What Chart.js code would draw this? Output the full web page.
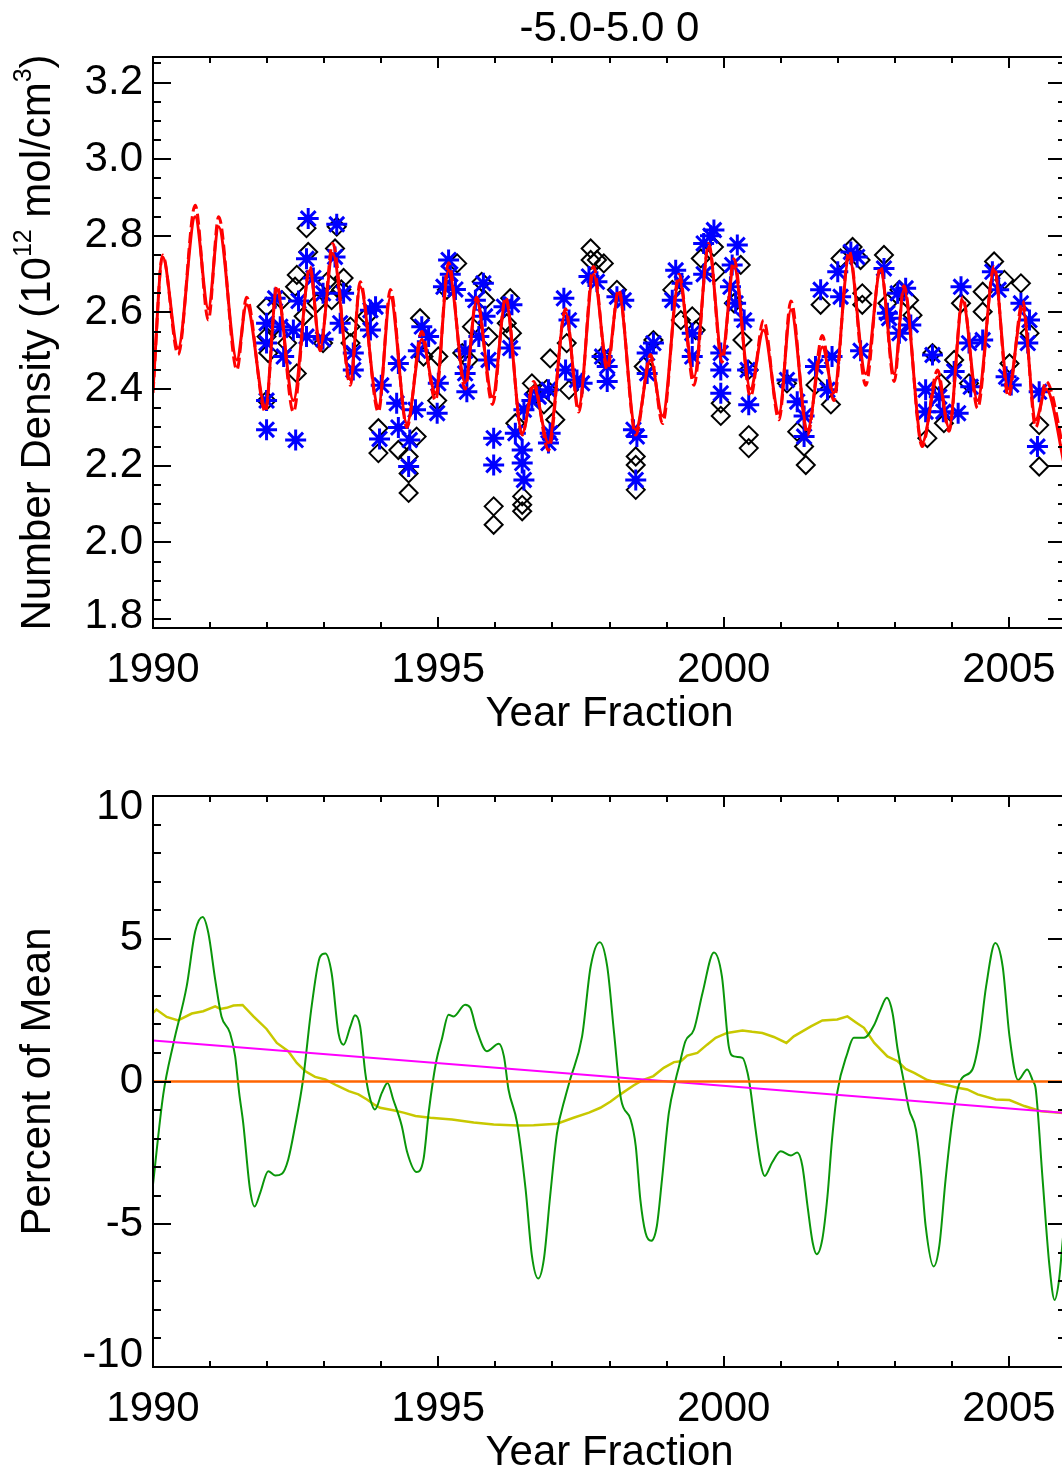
<!DOCTYPE html>
<html>
<head>
<meta charset="utf-8">
<script src="https://cdn.jsdelivr.net/npm/chart.js@4.4.1/dist/chart.umd.min.js"></script>
<style>
  html, body { margin: 0; padding: 0; background: #fff; overflow: hidden; }
  #wrap { position: relative; width: 1062px; height: 1472px; overflow: hidden; background: #fff; }
  canvas { position: absolute; left: 0; }
</style>
</head>
<body>
<div id="wrap">
  <canvas id="topChart" width="1090" height="736" style="top:0"></canvas>
  <canvas id="botChart" width="1090" height="736" style="top:736px"></canvas>
</div>
<script>
const FONT = '"Liberation Sans", Arial, Helvetica, sans-serif';

// ---- tick labels ----
const yearTicks = [1990, 1995, 2000, 2005];
const densityTicks = [1.8, 2.0, 2.2, 2.4, 2.6, 2.8, 3.0, 3.2];
const percentTicks = [-10, -5, 0, 5, 10];

// ---- top panel: model curves (solid and dashed red) ----
const redYears = [
  1990.00,1990.17,1990.44,1990.74,1990.97,1991.15,1991.47,1991.64,1991.97,1992.17,
  1992.46,1992.75,1992.93,1993.15,1993.46,1993.63,1993.95,1994.16,1994.45,1994.71,
  1994.95,1995.18,1995.47,1995.67,1995.95,1996.18,1996.47,1996.67,1996.93,1997.23,
  1997.46,1997.72,1997.96,1998.16,1998.46,1998.72,1998.93,1999.22,1999.48,1999.74,
  1999.97,2000.18,2000.47,2000.70,2000.97,2001.18,2001.47,2001.73,2001.93,2002.20,
  2002.49,2002.75,2002.99,2003.16,2003.48,2003.75,2003.95,2004.19,2004.45,2004.74,
  2004.99,2005.24,2005.47,2005.65,2006.00
];
const redSolid = [
  2.400,2.745,2.507,2.850,2.610,2.824,2.476,2.620,2.354,2.660,
  2.370,2.710,2.510,2.754,2.424,2.667,2.354,2.640,2.310,2.530,
  2.390,2.710,2.416,2.630,2.380,2.630,2.285,2.406,2.260,2.600,
  2.354,2.700,2.467,2.650,2.294,2.476,2.330,2.685,2.432,2.770,
  2.490,2.720,2.400,2.554,2.337,2.607,2.294,2.510,2.390,2.745,
  2.440,2.710,2.440,2.660,2.260,2.432,2.300,2.630,2.370,2.710,
  2.400,2.610,2.320,2.400,2.180
];
const redDashed = [
  2.390,2.750,2.490,2.880,2.580,2.850,2.450,2.640,2.340,2.670,
  2.340,2.720,2.500,2.780,2.410,2.680,2.340,2.660,2.300,2.550,
  2.370,2.730,2.400,2.640,2.360,2.640,2.280,2.420,2.240,2.610,
  2.340,2.720,2.450,2.660,2.280,2.490,2.310,2.700,2.410,2.780,
  2.470,2.740,2.380,2.580,2.320,2.630,2.280,2.540,2.370,2.760,
  2.410,2.720,2.420,2.670,2.250,2.450,2.290,2.640,2.350,2.720,
  2.380,2.630,2.300,2.420,2.210
];

// ---- top panel: measurements (black diamonds) ----
const diamondYears = [
  1991.99,1991.99,1992.02,1991.99,1992.10,1992.26,1992.35,1992.49,1992.52,1992.52,
  1992.64,1992.69,1992.72,1992.87,1992.98,1993.05,1993.13,1993.19,1993.22,1993.30,
  1993.34,1993.46,1993.46,1993.75,1993.95,1993.95,1994.30,1994.48,1994.48,1994.48,
  1994.62,1994.68,1994.74,1994.98,1995.00,1995.15,1995.33,1995.42,1995.53,1995.59,
  1995.76,1995.82,1995.88,1995.97,1995.97,1996.20,1996.26,1996.29,1996.35,1996.47,
  1996.47,1996.47,1996.64,1996.70,1996.85,1996.90,1996.96,1997.05,1997.25,1997.29,
  1997.67,1997.67,1997.78,1997.87,1997.90,1998.13,1998.46,1998.46,1998.46,1998.60,
  1998.77,1999.10,1999.25,1999.45,1999.51,1999.60,1999.83,1999.86,1999.95,1999.95,
  2000.18,2000.30,2000.33,2000.44,2000.44,2000.44,2001.11,2001.29,2001.41,2001.44,
  2001.61,2001.70,2001.88,2002.05,2002.26,2002.40,2002.43,2002.43,2002.81,2002.87,
  2003.08,2003.25,2003.31,2003.57,2003.66,2003.81,2003.86,2004.04,2004.16,2004.30,
  2004.54,2004.54,2004.74,2004.92,2005.01,2005.21,2005.36,2005.53,2005.53
];
const diamondDensity = [
  2.615,2.537,2.494,2.370,2.560,2.632,2.520,2.667,2.698,2.441,
  2.590,2.820,2.758,2.624,2.520,2.680,2.632,2.767,2.824,2.660,
  2.690,2.563,2.520,2.590,2.298,2.233,2.241,2.224,2.180,2.129,
  2.276,2.585,2.485,2.370,2.485,2.659,2.728,2.494,2.476,2.563,
  2.680,2.632,2.537,2.094,2.046,2.572,2.637,2.546,2.311,2.120,
  2.098,2.081,2.415,2.390,2.360,2.400,2.480,2.320,2.520,2.398,
  2.767,2.737,2.737,2.485,2.728,2.659,2.224,2.202,2.137,2.459,
  2.528,2.659,2.580,2.590,2.554,2.741,2.771,2.706,2.363,2.330,
  2.624,2.724,2.528,2.450,2.280,2.246,2.415,2.289,2.250,2.202,
  2.411,2.620,2.360,2.741,2.771,2.737,2.650,2.620,2.750,2.624,
  2.659,2.632,2.593,2.272,2.494,2.415,2.311,2.476,2.624,2.415,
  2.654,2.602,2.733,2.685,2.467,2.676,2.546,2.306,2.198
];

// ---- top panel: measurements (blue asterisks) ----
const starYears = [
  1991.99,1991.99,1991.99,1991.99,1992.14,1992.23,1992.29,1992.46,1992.50,1992.55,
  1992.69,1992.69,1992.72,1992.81,1992.98,1992.98,1993.19,1993.22,1993.28,1993.34,
  1993.51,1993.51,1993.81,1993.81,1993.90,1993.97,1994.00,1994.27,1994.30,1994.30,
  1994.48,1994.50,1994.60,1994.65,1994.71,1994.83,1994.98,1995.00,1995.09,1995.18,
  1995.21,1995.30,1995.47,1995.47,1995.50,1995.65,1995.71,1995.79,1995.82,1995.88,
  1995.97,1995.97,1996.15,1996.26,1996.29,1996.35,1996.47,1996.47,1996.50,1996.50,
  1996.64,1996.76,1996.93,1996.93,1996.96,1997.20,1997.23,1997.29,1997.43,1997.52,
  1997.64,1997.78,1997.87,1997.96,1997.96,1998.13,1998.25,1998.42,1998.46,1998.48,
  1998.66,1998.66,1998.77,1999.10,1999.16,1999.27,1999.45,1999.45,1999.65,1999.65,
  1999.77,1999.83,1999.95,1999.95,1999.95,2000.12,2000.15,2000.21,2000.24,2000.36,
  2000.42,2000.44,2001.11,2001.29,2001.41,2001.41,2001.61,2001.70,2001.82,2001.90,
  2002.00,2002.05,2002.23,2002.34,2002.40,2002.81,2002.87,2002.90,2003.05,2003.08,
  2003.19,2003.28,2003.54,2003.54,2003.66,2003.78,2003.85,2004.04,2004.11,2004.16,
  2004.30,2004.33,2004.54,2004.71,2004.82,2004.95,2005.04,2005.21,2005.33,2005.36,
  2005.50,2005.53
];
const starDensity = [
  2.572,2.520,2.370,2.294,2.637,2.563,2.485,2.554,2.267,2.630,
  2.537,2.740,2.845,2.690,2.650,2.530,2.745,2.830,2.572,2.650,
  2.494,2.450,2.606,2.554,2.615,2.270,2.410,2.363,2.467,2.300,
  2.198,2.267,2.346,2.500,2.563,2.537,2.337,2.415,2.667,2.737,
  2.700,2.660,2.500,2.441,2.393,2.632,2.537,2.676,2.590,2.476,
  2.272,2.202,2.615,2.507,2.620,2.285,2.241,2.207,2.163,2.346,
  2.370,2.380,2.398,2.259,2.285,2.637,2.450,2.580,2.424,2.415,
  2.694,2.680,2.485,2.459,2.420,2.641,2.632,2.294,2.163,2.276,
  2.494,2.441,2.520,2.632,2.710,2.676,2.546,2.485,2.780,2.700,
  2.800,2.815,2.494,2.450,2.389,2.667,2.724,2.624,2.776,2.580,
  2.450,2.359,2.424,2.367,2.330,2.276,2.459,2.659,2.398,2.485,
  2.706,2.641,2.758,2.745,2.500,2.715,2.598,2.585,2.650,2.546,
  2.663,2.567,2.398,2.341,2.489,2.380,2.341,2.446,2.337,2.667,
  2.520,2.406,2.528,2.706,2.659,2.432,2.411,2.624,2.520,2.580,
  2.250,2.393
];

// ---- bottom panel: percent of mean ----
const greenYears = [
  1990.00,1990.18,1990.36,1990.59,1990.74,1990.87,1990.97,1991.09,1991.20,1991.35,
  1991.44,1991.51,1991.58,1991.70,1991.78,1991.88,1992.02,1992.14,1992.26,1992.37,
  1992.49,1992.63,1992.78,1992.93,1993.02,1993.13,1993.25,1993.34,1993.46,1993.54,
  1993.63,1993.72,1993.78,1993.89,1994.01,1994.11,1994.21,1994.36,1994.45,1994.62,
  1994.74,1994.83,1994.91,1994.97,1995.06,1995.18,1995.27,1995.47,1995.56,1995.67,
  1995.85,1996.06,1996.15,1996.23,1996.38,1996.53,1996.64,1996.75,1996.85,1996.96,
  1997.08,1997.23,1997.31,1997.52,1997.67,1997.83,1997.96,1998.08,1998.20,1998.37,
  1998.46,1998.54,1998.63,1998.73,1998.83,1998.92,1999.04,1999.16,1999.22,1999.33,
  1999.48,1999.63,1999.83,1999.97,2000.09,2000.18,2000.33,2000.42,2000.47,2000.56,
  2000.65,2000.72,2000.85,2001.00,2001.18,2001.29,2001.38,2001.47,2001.56,2001.63,
  2001.73,2001.82,2001.90,2001.99,2002.17,2002.28,2002.46,2002.64,2002.75,2002.86,
  2002.96,2003.05,2003.14,2003.25,2003.37,2003.46,2003.54,2003.68,2003.78,2003.89,
  2004.01,2004.10,2004.18,2004.36,2004.48,2004.60,2004.76,2004.89,2005.01,2005.16,
  2005.32,2005.42,2005.47,2005.59,2005.71,2005.80,2005.88,2005.95,2006.00
];
const greenPct = [
  -3.60,-0.45,1.35,3.33,5.26,5.76,5.20,3.57,2.28,1.70,
  0.88,-0.40,-1.44,-3.78,-4.38,-3.89,-3.14,-3.29,-3.23,-2.73,
  -1.56,0.07,2.63,4.38,4.48,3.80,1.70,1.29,1.93,2.32,
  1.93,0.30,-0.40,-0.98,-0.40,-0.05,-0.63,-1.56,-2.44,-3.17,
  -2.73,-1.10,0.07,0.77,1.47,2.34,2.28,2.69,2.58,1.82,
  1.06,1.32,0.88,-0.28,-1.44,-3.78,-6.10,-6.90,-6.22,-4.01,
  -1.80,-0.51,0.07,1.58,4.03,4.88,4.03,1.70,-0.60,-1.33,
  -2.26,-4.13,-5.29,-5.58,-5.06,-3.43,-1.10,0.07,0.54,1.41,
  1.82,3.10,4.52,3.68,1.23,0.88,0.83,0.30,-0.28,-1.68,
  -2.90,-3.31,-2.84,-2.44,-2.59,-2.49,-2.96,-4.36,-5.64,-6.05,
  -5.52,-4.01,-2.03,-0.40,1.00,1.53,1.53,1.99,2.52,2.93,
  2.40,1.12,0.19,-0.98,-1.68,-3.19,-5.06,-6.48,-5.76,-3.43,
  -1.33,-0.28,0.13,0.42,1.47,3.33,4.85,4.03,1.58,0.05,
  0.42,0.01,-0.28,-3.43,-6.46,-7.65,-6.92,-5.41,-4.50
];
const yellowYears = [
  1990.00,1990.06,1990.24,1990.44,1990.68,1990.88,1991.09,1991.18,1991.29,1991.41,
  1991.57,1991.76,1991.99,1992.17,1992.37,1992.52,1992.67,1992.84,1993.02,1993.22,
  1993.43,1993.60,1993.75,1993.87,1993.98,1994.21,1994.39,1994.60,1994.86,1995.24,
  1995.62,1995.97,1996.38,1996.67,1997.08,1997.37,1997.64,1997.84,1998.02,1998.19,
  1998.42,1998.57,1998.77,1998.95,1999.13,1999.25,1999.36,1999.54,1999.71,1999.86,
  2000.06,2000.33,2000.50,2000.68,2000.88,2001.10,2001.23,2001.53,2001.73,2001.99,
  2002.17,2002.32,2002.46,2002.64,2002.87,2003.05,2003.19,2003.34,2003.57,2003.86,
  2004.10,2004.27,2004.45,2004.77,2005.01,2005.27,2005.56,2005.95,2006.00
];
const yellowPct = [
  2.40,2.52,2.26,2.14,2.38,2.46,2.63,2.54,2.58,2.66,
  2.68,2.28,1.84,1.35,1.06,0.65,0.36,0.16,0.07,-0.14,
  -0.34,-0.45,-0.63,-0.80,-0.92,-1.01,-1.09,-1.21,-1.27,-1.33,
  -1.44,-1.51,-1.54,-1.53,-1.48,-1.27,-1.09,-0.92,-0.70,-0.45,
  -0.14,0.04,0.19,0.48,0.68,0.71,0.91,1.00,1.29,1.53,
  1.70,1.79,1.74,1.70,1.56,1.35,1.58,1.93,2.14,2.17,
  2.28,2.07,1.88,1.35,0.88,0.71,0.44,0.30,0.05,-0.10,
  -0.22,-0.28,-0.45,-0.63,-0.65,-0.86,-1.04,-1.10,-1.12
];
const trendYears = [1990, 2006];
const trendPct = [1.44, -1.10];
const zeroYears = [1990, 2006];
const zeroPct = [0, 0];

function pairs(xs, ys) {
  return xs.map((x, i) => ({ x: x, y: ys[i] }));
}

// IDL style box: frame, inward ticks on all four sides, labels and titles
function idlFrame(o) {
  return {
    id: 'idlFrame',
    afterDatasetsDraw(chart) {
      const ctx = chart.ctx;
      const a = chart.chartArea;
      const xs = chart.scales.x, ys = chart.scales.y;
      ctx.save();
      ctx.strokeStyle = '#000';
      ctx.lineWidth = 2;
      ctx.beginPath();
      ctx.rect(a.left, a.top, a.right - a.left, a.bottom - a.top);
      for (let yr = 1990; yr <= 2006; yr++) {
        const px = Math.round(xs.getPixelForValue(yr));
        const len = yearTicks.includes(yr) ? 11 : 6;
        ctx.moveTo(px, a.bottom); ctx.lineTo(px, a.bottom - len);
        ctx.moveTo(px, a.top); ctx.lineTo(px, a.top + len);
      }
      for (let i = 0; i < o.minorCount; i++) {
        const v = o.minorStart + i * o.minorStep;
        const py = Math.round(ys.getPixelForValue(v));
        const major = o.yTicks.some(t => Math.abs(t - v) < 1e-6);
        const len = major ? 18 : 8;
        ctx.moveTo(a.left, py); ctx.lineTo(a.left + len, py);
        ctx.moveTo(a.right, py); ctx.lineTo(a.right - len, py);
      }
      ctx.stroke();

      ctx.fillStyle = '#000';
      ctx.font = '42px ' + FONT;
      ctx.textBaseline = 'middle';
      ctx.textAlign = 'center';
      yearTicks.forEach(v => ctx.fillText(String(v), xs.getPixelForValue(v), a.bottom + 42));
      ctx.fillText('Year Fraction', (a.left + a.right) / 2, a.bottom + 86);
      if (o.title) ctx.fillText(o.title, (a.left + a.right) / 2, 29);

      ctx.textAlign = 'right';
      o.yTicks.forEach(v => {
        let py = ys.getPixelForValue(v);
        py = Math.min(Math.max(py, a.top + 11), a.bottom - 12);
        ctx.fillText(o.fmt(v), a.left - 10, py);
      });

      // rotated y title, with superscripts
      ctx.translate(50, (a.top + a.bottom) / 2);
      ctx.rotate(-Math.PI / 2);
      ctx.textAlign = 'left';
      ctx.textBaseline = 'alphabetic';
      let total = 0;
      const widths = o.yTitle.map(p => {
        ctx.font = (p.sup ? '25px ' : '42px ') + FONT;
        const w = ctx.measureText(p.t).width;
        total += w;
        return w;
      });
      let x = -total / 2;
      o.yTitle.forEach((p, i) => {
        ctx.font = (p.sup ? '25px ' : '42px ') + FONT;
        ctx.fillText(p.t, x, p.sup ? -19 : 0);
        x += widths[i];
      });
      ctx.restore();
    }
  };
}

function makeChart(id, datasets, o) {
  return new Chart(document.getElementById(id), {
    type: 'line',
    data: { datasets: datasets },
    options: {
      responsive: false,
      animation: false,
      devicePixelRatio: 1,
      // canvas is 1090 wide: right padding 24 puts the plot's right edge at 1066,
      // just past the 1062 px window, as in the original
      layout: { padding: { top: o.padTop, right: 24, left: 0, bottom: 0 } },
      plugins: { legend: { display: false }, tooltip: { enabled: false } },
      elements: { point: { radius: 0 } },
      scales: {
        x: {
          type: 'linear', min: 1990, max: 2006,
          grid: { display: false }, border: { display: false },
          ticks: { display: false },
          afterFit(s) { s.height = o.xAxisHeight; }
        },
        y: {
          type: 'linear', min: o.yMin, max: o.yMax,
          grid: { display: false }, border: { display: false },
          ticks: { display: false },
          afterFit(s) { s.width = 153; }
        }
      }
    },
    plugins: [idlFrame(o)]
  });
}

makeChart('topChart', [
  { data: pairs(redYears, redSolid), borderColor: '#ff0000', borderWidth: 3,
    cubicInterpolationMode: 'monotone', pointRadius: 0, fill: false },
  { data: pairs(redYears, redDashed), borderColor: '#ff0000', borderWidth: 3, borderDash: [11, 5],
    cubicInterpolationMode: 'monotone', pointRadius: 0, fill: false },
  { data: pairs(starYears, starDensity), showLine: false, pointStyle: 'star', pointRadius: 10.5,
    borderColor: '#0000ff', backgroundColor: 'rgba(0,0,0,0)', borderWidth: 3, pointBorderWidth: 3 },
  { data: pairs(diamondYears, diamondDensity), showLine: false, pointStyle: 'rectRot', pointRadius: 9,
    borderColor: '#000000', backgroundColor: 'rgba(0,0,0,0)', borderWidth: 2, pointBorderWidth: 2 }
], {
  padTop: 57, xAxisHeight: 108, yMin: 1.7765, yMax: 3.2667,
  yTicks: densityTicks, fmt: v => v.toFixed(1),
  minorStart: 1.8, minorStep: 0.05, minorCount: 30,
  title: '-5.0-5.0 0',
  yTitle: [{ t: 'Number Density (10' }, { t: '12', sup: true }, { t: ' mol/cm' }, { t: '3', sup: true }, { t: ')' }]
});

makeChart('botChart', [
  { data: pairs(zeroYears, zeroPct), borderColor: '#ff6400', borderWidth: 2.5, pointRadius: 0 },
  { data: pairs(trendYears, trendPct), borderColor: '#ff00ff', borderWidth: 2, pointRadius: 0 },
  { data: pairs(greenYears, greenPct), borderColor: '#0a960a', borderWidth: 2,
    cubicInterpolationMode: 'monotone', pointRadius: 0 },
  { data: pairs(yellowYears, yellowPct), borderColor: '#c8c800', borderWidth: 2.5,
    tension: 0, pointRadius: 0 }
], {
  padTop: 60, xAxisHeight: 105, yMin: -10, yMax: 10,
  yTicks: percentTicks, fmt: v => String(v),
  minorStart: -10, minorStep: 1, minorCount: 21,
  title: null,
  yTitle: [{ t: 'Percent of Mean' }]
});
</script>
</body>
</html>
